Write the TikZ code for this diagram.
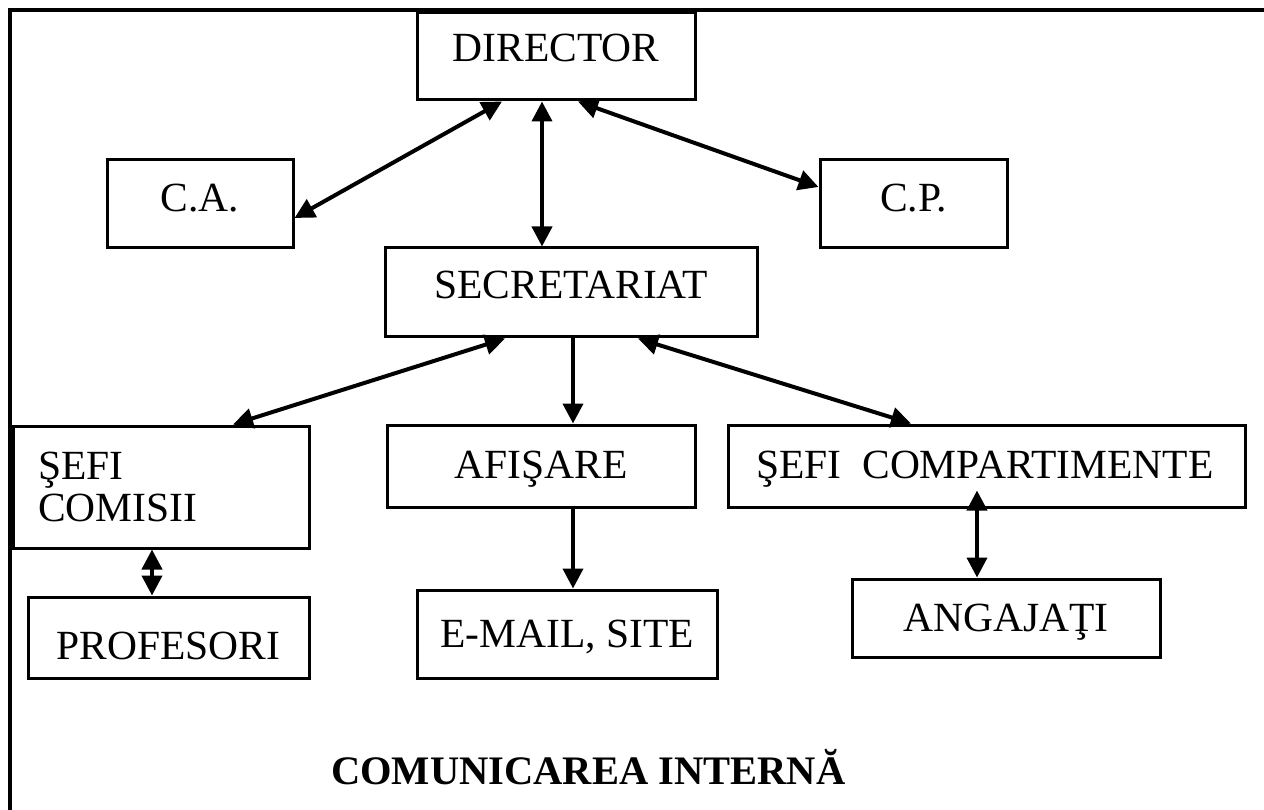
\documentclass[tikz,border=0pt]{standalone}
\usepackage{fontspec}
\setmainfont{Liberation Serif}
\usetikzlibrary{arrows.meta,calc}
\begin{document}
\begin{tikzpicture}[x=1pt,y=-1pt,
  box/.style={draw, line width=3pt, inner sep=0pt, font=\fontsize{41.5}{41.5}\selectfont},
  tl/.style={text height=28pt, text depth=#1},
  bi/.style={line width=4pt, {Triangle[length=20pt,width=20pt]}-{Triangle[length=20pt,width=20pt]}},
  uni/.style={line width=4pt, -{Triangle[length=20pt,width=20pt]}},
  frameline/.style={line width=3.5pt}]
\useasboundingbox (0,0) rectangle (1264,810);
\coordinate (fr) at (1264,10);
\coordinate (fc) at (10,10);
\coordinate (fb) at (10,810);
\draw[frameline] (fr) -- (fc) -- (fb);

\node[box, minimum width=278pt, minimum height=87pt, tl=17pt] (dir) at (556,56.5) {DIRECTOR};
\node[box, minimum width=186pt, minimum height=88pt, tl=12pt] (ca) at (200,204) {C.A.};
\node[box, minimum width=187pt, minimum height=88pt, tl=12pt] (cp) at (913.5,204) {C.P.};
\node[box, minimum width=372pt, minimum height=89pt, tl=15pt] (sec) at (571,292.5) {SECRETARIAT};
\node[box, minimum height=122pt, text width=246pt, inner xsep=25pt, align=left] (sc) at (161,487) {ŞEFI\\COMISII};
\node[box, minimum height=82pt, text width=461pt, inner xsep=28pt, align=left, tl=4pt] (scp) at (986.5,466) {\mbox{ŞEFI\hspace{21pt}COMPARTIMENTE}};
\node[box, minimum width=308pt, minimum height=82pt, tl=4pt] (af) at (541,466) {AFIŞARE};
\node[box, minimum width=281pt, minimum height=81pt, text height=43pt, text depth=0pt] (prof) at (168.5,637.5) {PROFESORI};
\node[box, minimum width=300pt, minimum height=88pt, tl=1pt] (em) at (567,634) {E-MAIL, SITE};
\node[box, minimum width=308pt, minimum height=78pt, tl=2pt] (ang) at (1006,618) {ANGAJAŢI};
\node[font=\fontsize{40.5}{40.5}\selectfont\bfseries, anchor=base west, inner sep=0pt] (title) at (331,784) {COMUNICAREA INTERNĂ};

\draw[bi] ([xshift=-54pt]dir.south) -- ([yshift=-14pt]ca.east);
\coordinate (ds) at ([xshift=-14pt]dir.south);
\draw[bi] (ds) -- (ds |- sec.north);
\draw[bi] ([xshift=22pt]dir.south) -- ([yshift=17pt]cp.west);
\draw[bi] ([xshift=-66pt]sec.south) -- ([xshift=72pt]sc.north);
\coordinate (sa) at ([xshift=2pt]sec.south);
\draw[uni] (sa) -- (sa |- af.north);
\draw[bi] ([xshift=67pt]sec.south) -- ([xshift=-75.5pt]scp.north);
\draw[uni] (sa |- af.south) -- (sa |- em.north);
\coordinate (sp) at ([xshift=-9pt]sc.south);
\draw[bi] (sp) -- (sp |- prof.north);
\coordinate (aa) at ([xshift=-29pt]ang.north);
\draw[bi] (aa) -- ($(aa |- scp.south)+(0,-18)$);
\end{tikzpicture}
\end{document}
